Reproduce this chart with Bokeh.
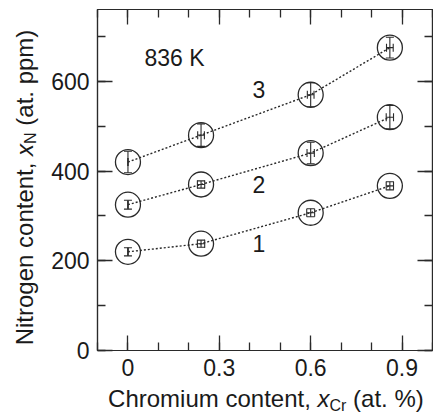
import math
from bokeh.plotting import figure
from bokeh.layouts import row, column
from bokeh.models import Range1d, LinearAxis, FixedTicker, Whisker, TeeHead, ColumnDataSource
from bokeh.core.properties import value
from bokeh.embed import file_html
from bokeh.resources import INLINE

# ---------------- data ----------------
x_cr = [0.0, 0.24, 0.60, 0.86]            # chromium content (at. %)
xn_series1 = [220, 238, 307, 367]         # nitrogen content (at. ppm)
xn_series2 = [325, 370, 440, 520]
xn_series3 = [420, 480, 570, 675]
yerr_series1 = [9, 8, 9, 9]
yerr_series2 = [10, 8, 24, 26]
yerr_series3 = [24, 25, 27, 23]
xerr_series1 = [0.0, 0.012, 0.013, 0.012]
xerr_series2 = [0.0, 0.012, 0.012, 0.012]
xerr_series3 = [0.0, 0.011, 0.011, 0.011]
series_names = ["1", "2", "3"]
temperature_text = "836 K"

x_ticks = [0.0, 0.3, 0.6, 0.9]
x_tick_labels = ["0", "0.3", "0.6", "0.9"]
x_minor = [-0.1, 0.0, 0.1, 0.2, 0.3, 0.4, 0.5, 0.6, 0.7, 0.8, 0.9, 1.0]
y_ticks = [0, 200, 400, 600]
y_tick_labels = ["0", "200", "400", "600"]
y_minor = [0, 100, 200, 300, 400, 500, 600, 700]

# axis titles: (prefix, italic symbol, subscript, suffix); a space separates the parts
x_title = ("Chromium content,", "x", "Cr", "(at. %)")
y_title = ("Nitrogen content,", "x", "N", "(at. ppm)")

FONT = "Liberation Sans"
INK = "#1a1a1a"
LINE = "#2a2a2a"

TOTAL_W, TOTAL_H = 433, 414
YLAB_W = 42
TOP_H = 384
XLAB_H = TOTAL_H - TOP_H

p = figure(width=TOTAL_W - YLAB_W, height=TOP_H, x_range=Range1d(-0.1, 1.0),
           y_range=Range1d(0, 760), output_backend="svg", toolbar_location=None, title=None,
           min_border_left=97 - YLAB_W, min_border_right=1, min_border_top=9,
           min_border_bottom=34)
p.xgrid.visible = False
p.ygrid.visible = False
p.outline_line_color = LINE
p.outline_line_width = 1.2


def style_axis(ax, ticks, minor, labels=None):
    ax.ticker = FixedTicker(ticks=ticks, minor_ticks=minor)
    ax.major_tick_in = 15
    ax.major_tick_out = 0
    ax.minor_tick_in = 8
    ax.minor_tick_out = 0
    ax.major_tick_line_color = LINE
    ax.minor_tick_line_color = LINE
    ax.major_tick_line_width = 1.3
    ax.minor_tick_line_width = 1.3
    ax.axis_line_color = LINE
    ax.axis_line_width = 1.2
    if labels is None:
        ax.major_label_text_font_size = "0px"
        ax.major_label_text_alpha = 0
        ax.major_label_standoff = 0
    else:
        ax.major_label_overrides = dict(zip(ticks, labels))
        ax.major_label_text_font = FONT
        ax.major_label_text_font_size = "23px"
        ax.major_label_text_color = INK
        ax.major_label_standoff = 8


style_axis(p.xaxis[0], x_ticks, x_minor, x_tick_labels)
style_axis(p.yaxis[0], y_ticks, y_minor, y_tick_labels)
right_ax = LinearAxis()
style_axis(right_ax, y_ticks, y_minor)
p.add_layout(right_ax, "right")
top_ax = LinearAxis()
style_axis(top_ax, x_ticks, x_minor)
p.add_layout(top_ax, "above")

all_y = [xn_series1, xn_series2, xn_series3]
all_yerr = [yerr_series1, yerr_series2, yerr_series3]
all_xerr = [xerr_series1, xerr_series2, xerr_series3]

for ys, ye, xe in zip(all_y, all_yerr, all_xerr):
    p.line(x_cr, ys, line_color=LINE, line_width=1.4, line_dash="2 2")
    src = ColumnDataSource(dict(
        x=x_cr, y=ys,
        ylo=[v - e for v, e in zip(ys, ye)], yhi=[v + e for v, e in zip(ys, ye)],
        xlo=[v - e for v, e in zip(x_cr, xe)], xhi=[v + e for v, e in zip(x_cr, xe)]))
    p.add_layout(Whisker(source=src, base="x", lower="ylo", upper="yhi", dimension="height",
                         line_color=LINE, line_width=1.1,
                         upper_head=TeeHead(size=8, line_color=LINE, line_width=1.1),
                         lower_head=TeeHead(size=8, line_color=LINE, line_width=1.1)))
    p.add_layout(Whisker(source=src, base="y", lower="xlo", upper="xhi", dimension="width",
                         line_color=LINE, line_width=1.1,
                         upper_head=TeeHead(size=8, line_color=LINE, line_width=1.1),
                         lower_head=TeeHead(size=8, line_color=LINE, line_width=1.1)))
    p.scatter(x_cr, ys, marker="circle", size=25, fill_color=None,
              line_color=LINE, line_width=1.3)

# series labels and temperature
p.text([0.43, 0.43, 0.43], [239, 369, 581], text=series_names, text_font=value(FONT),
       text_font_size="23px", text_align="center", text_baseline="middle", text_color=INK)
p.text([0.153], [652], text=[temperature_text], text_font=value(FONT), text_font_size="23px",
       text_align="center", text_baseline="middle", text_color=INK)

# ---------- axis titles (italic symbol + subscript) in small pixel-space figures ----------
BIG, SMALL, DROP = 24, 16, 4
MID = 0.3465               # baseline-to-middle offset, in em (Liberation Sans)
W_X_ITALIC = 0.500 * BIG   # advance of italic "x"
W_SPACE = 0.278 * BIG      # advance of a space


def label_fig(w, h):
    f = figure(frame_width=w, frame_height=h, x_range=Range1d(0, w), y_range=Range1d(0, h),
               x_axis_type=None, y_axis_type=None, output_backend="svg",
               toolbar_location=None, title=None, min_border=0)
    f.outline_line_color = None
    f.xgrid.visible = False
    f.ygrid.visible = False
    return f


def add_title(f, parts, ax, base, vertical, sub_width):
    """ax: where the italic symbol starts along the text; base: baseline position
    (pixel data space of the small figure)."""
    prefix, sym, sub, suffix = parts
    ang = math.pi / 2 if vertical else 0.0

    def put(offset, down, text, size, style, align):
        lift = MID * size - down      # middle of the text box above the main baseline
        if vertical:
            x, y = base - lift, ax + offset
        else:
            x, y = ax + offset, base + lift
        f.text([x], [y], text=[text], angle=ang, text_font=value(FONT),
               text_font_size=f"{size}px", text_font_style=style, text_color=INK,
               text_align=align, text_baseline="middle")

    put(-W_SPACE, 0, prefix, BIG, "normal", "right")
    put(0, 0, sym, BIG, "italic", "left")
    put(W_X_ITALIC, DROP, sub, SMALL, "normal", "left")
    put(W_X_ITALIC + sub_width + W_SPACE, 0, suffix, BIG, "normal", "left")


ylab = label_fig(YLAB_W, TOP_H)
# y title: baseline at x = 32 px, "x" symbol starts ~146 px below the page top
add_title(ylab, y_title, TOP_H - 146.4, 32.0, True, 0.722 * SMALL)

xlab = label_fig(TOTAL_W, XLAB_H)
# x title: "x" symbol starts at ~317 px, baseline ~406.5 px below the page top
add_title(xlab, x_title, 317.0, XLAB_H - (406.5 - TOP_H), False, 1.055 * SMALL)

layout = column(row(ylab, p, spacing=0), xlab, spacing=0)

open("out.html", "w").write(file_html(layout, INLINE))
